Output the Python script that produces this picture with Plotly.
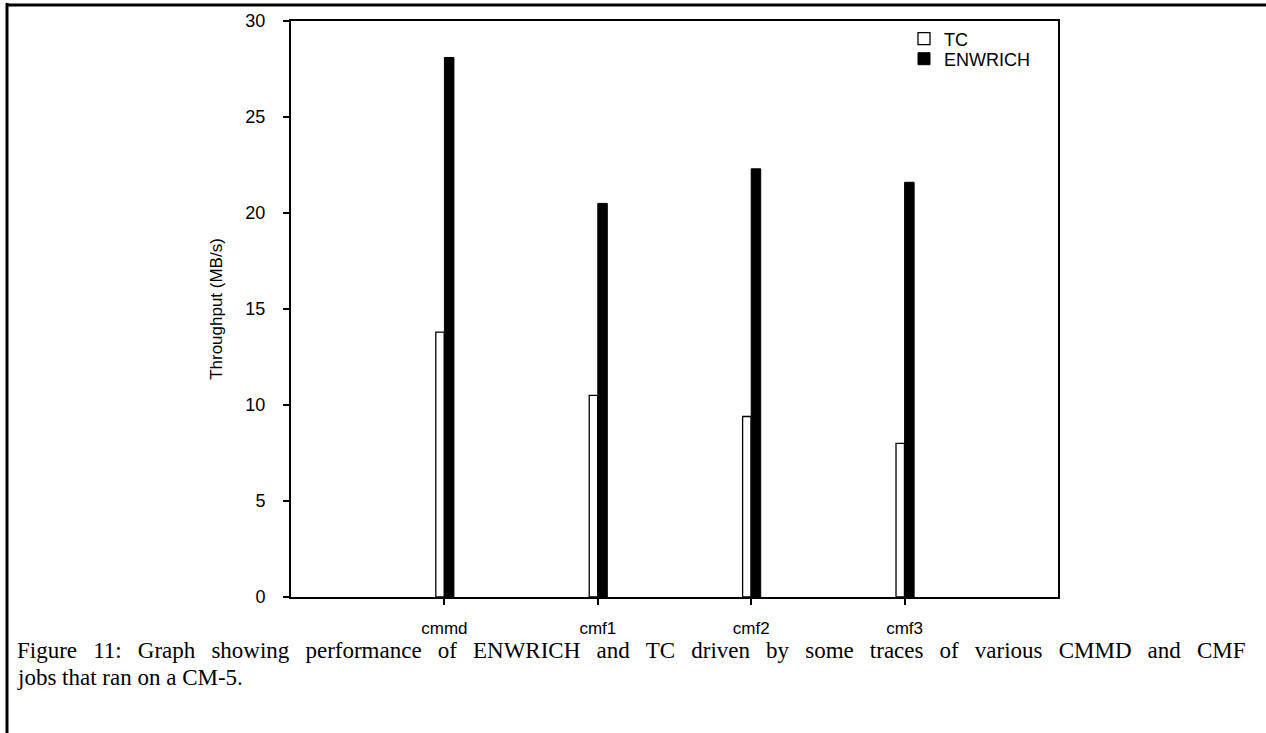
import plotly.graph_objects as go

categories = ["cmmd", "cmf1", "cmf2", "cmf3"]
tc_values = [13.8, 10.5, 9.4, 8.0]
enwrich_values = [28.1, 20.5, 22.3, 21.6]
y_ticks = [0, 5, 10, 15, 20, 25, 30]
caption_line1 = "Figure 11:  Graph showing performance of ENWRICH and TC driven by some traces of various CMMD and CMF"
caption_line2 = "jobs that ran on a CM-5."

W, H = 1266, 733
L, R, T, B = 291, 1058, 21, 597
pw, ph = R - L, B - T

def px(x):
    return (x - L) / pw

def py(y):
    return (B - y) / ph

fig = go.Figure()
fig.add_trace(go.Bar(
    x=categories, y=tc_values, name="TC", legend="legend",
    marker=dict(color="white", line=dict(color="black", width=1.3)),
    width=0.055, offset=-0.056,
))
fig.add_trace(go.Bar(
    x=categories, y=enwrich_values, name="ENWRICH", legend="legend2",
    marker=dict(color="black", line=dict(color="black", width=1)),
    width=0.062, offset=0.0,
))

sans = "Liberation Sans, Arial"
leg_font = dict(family=sans, size=18, color="black")

fig.update_layout(
    width=W, height=H,
    margin=dict(l=L, r=W - R, t=T, b=H - B, autoexpand=False),
    paper_bgcolor="white", plot_bgcolor="white",
    barmode="overlay",
    showlegend=True,
    legend=dict(x=px(904), y=py(39), xanchor="left", yanchor="middle",
                font=leg_font, bgcolor="rgba(0,0,0,0)", itemwidth=30),
    legend2=dict(x=px(904), y=py(59), xanchor="left", yanchor="middle",
                 font=leg_font, bgcolor="rgba(0,0,0,0)", itemwidth=30),
    xaxis=dict(type="category", range=[-1, 4], showgrid=False, zeroline=False,
               showline=True, mirror=True, linecolor="black", linewidth=2,
               ticks="outside", ticklen=6, tickwidth=1.5, tickcolor="black",
               tickfont=dict(family=sans, size=17, color="black"), ticklabelstandoff=9),
    yaxis=dict(range=[0, 30], tickvals=y_ticks, showgrid=False, zeroline=False,
               showline=True, mirror=True, linecolor="black", linewidth=2,
               ticks="outside", ticklen=6, tickwidth=1.5, tickcolor="black",
               tickfont=dict(family=sans, size=18, color="black"), ticklabelstandoff=14,
               title=dict(text="Throughput (MB/s)", standoff=18,
                          font=dict(family=sans, size=17, color="black"))),
    font=dict(family=sans, color="black"),
)

# outer figure frame (left and top)
fig.add_shape(type="line", xref="paper", yref="paper",
              x0=px(7), x1=px(7), y0=py(3), y1=py(740),
              line=dict(color="black", width=3))
fig.add_shape(type="line", xref="paper", yref="paper",
              x0=px(6), x1=px(1270), y0=py(5), y1=py(5),
              line=dict(color="black", width=3))

serif = dict(family="Liberation Serif, Times New Roman", size=23, color="black")
line1 = caption_line1.replace("  ", " ").replace(" ", "\u2002\u2009")
fig.add_annotation(text=line1, xref="paper", yref="paper",
                   x=px(15), y=py(650), xanchor="left", yanchor="middle",
                   align="left", showarrow=False, font=serif)
fig.add_annotation(text=caption_line2, xref="paper", yref="paper",
                   x=px(15), y=py(677), xanchor="left", yanchor="middle",
                   align="left", showarrow=False, font=serif)

fig.write_html("out.html", config={"displayModeBar": False},
               post_script="document.body.style.margin='0px';")
